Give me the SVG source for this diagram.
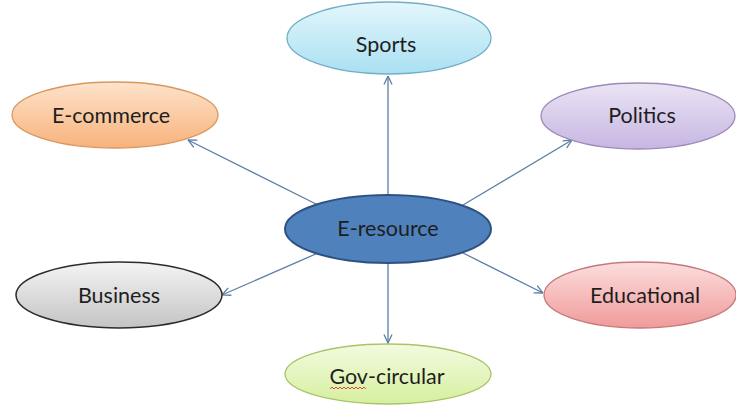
<svg xmlns="http://www.w3.org/2000/svg" width="736" height="406" viewBox="0 0 736 406">
<defs>
<linearGradient id="gBlue" x1="0" y1="0" x2="0" y2="1"><stop offset="0" stop-color="#e4f6fc"/><stop offset="1" stop-color="#a9e0f2"/></linearGradient>
<linearGradient id="gOrange" x1="0" y1="0" x2="0" y2="1"><stop offset="0" stop-color="#fde3cb"/><stop offset="1" stop-color="#f8b27c"/></linearGradient>
<linearGradient id="gPurple" x1="0" y1="0" x2="0" y2="1"><stop offset="0" stop-color="#ebe4f5"/><stop offset="1" stop-color="#c6b6e2"/></linearGradient>
<linearGradient id="gGray" x1="0" y1="0" x2="0" y2="1"><stop offset="0" stop-color="#f4f4f4"/><stop offset="1" stop-color="#c4c4c4"/></linearGradient>
<linearGradient id="gPink" x1="0" y1="0" x2="0" y2="1"><stop offset="0" stop-color="#fcdede"/><stop offset="1" stop-color="#f09a9a"/></linearGradient>
<linearGradient id="gGreen" x1="0" y1="0" x2="0" y2="1"><stop offset="0" stop-color="#f3fbe0"/><stop offset="1" stop-color="#d6ef9f"/></linearGradient>
<marker id="arr" viewBox="0 0 10 10" refX="9.5" refY="5" markerWidth="10" markerHeight="10" markerUnits="userSpaceOnUse" orient="auto">
<path d="M1,1 L9.5,5 L1,9" fill="none" stroke="#5b7fa6" stroke-width="1.3"/>
</marker>
</defs>
<style>
.lbl{font-family:"Lato","Open Sans",sans-serif;font-size:21.5px;fill:#1e1e1e;text-anchor:middle;dominant-baseline:central}
.edge{stroke:#5b7fa6;stroke-width:1.3;fill:none;marker-end:url(#arr)}
</style>
<rect width="736" height="406" fill="#ffffff"/>
<g id="connectors">
<line class="edge" x1="388" y1="195" x2="388" y2="76"/>
<line class="edge" x1="388" y1="263" x2="388" y2="343"/>
<line class="edge" x1="318" y1="205" x2="188" y2="140"/>
<line class="edge" x1="463" y1="205" x2="572" y2="140"/>
<line class="edge" x1="318" y1="253" x2="222" y2="295"/>
<line class="edge" x1="463" y1="253" x2="543" y2="293"/>
</g>
<g id="node-sports">
<ellipse cx="389" cy="38" rx="102" ry="36" fill="url(#gBlue)" stroke="#72aec6" stroke-width="1.3"/>
<text class="lbl" x="386" y="44">Sports</text>
</g>
<g id="node-ecommerce">
<ellipse cx="115" cy="115" rx="103" ry="33" fill="url(#gOrange)" stroke="#d9975e" stroke-width="1.3"/>
<text class="lbl" x="111" y="115">E-commerce</text>
</g>
<g id="node-politics">
<ellipse cx="638" cy="116" rx="97" ry="33" fill="url(#gPurple)" stroke="#9d8ab9" stroke-width="1.3"/>
<text class="lbl" x="642" y="115">Politics</text>
</g>
<g id="node-eresource">
<ellipse cx="388" cy="229" rx="103" ry="34" fill="#4f81bd" stroke="#2f5282" stroke-width="2"/>
<text class="lbl" x="388" y="228">E-resource</text>
</g>
<g id="node-business">
<ellipse cx="119" cy="295" rx="103" ry="33" fill="url(#gGray)" stroke="#2b2b2b" stroke-width="1.5"/>
<text class="lbl" x="119" y="295">Business</text>
</g>
<g id="node-educational">
<ellipse cx="640" cy="295" rx="96" ry="33" fill="url(#gPink)" stroke="#c47a7a" stroke-width="1.3"/>
<text class="lbl" x="645" y="295">Educational</text>
</g>
<g id="node-govcircular">
<ellipse cx="388" cy="374" rx="103" ry="30" fill="url(#gGreen)" stroke="#a9c46a" stroke-width="1.3"/>
<text class="lbl" x="387" y="376">Gov-circular</text>
<path d="M330,389 l2,-2 l2,2 l2,-2 l2,2 l2,-2 l2,2 l2,-2 l2,2 l2,-2 l2,2 l2,-2 l2,2 l2,-2 l2,2 l2,-2 l2,2 l2,-2 l2,2" fill="none" stroke="#e03030" stroke-width="0.9"/>
</g>
</svg>
